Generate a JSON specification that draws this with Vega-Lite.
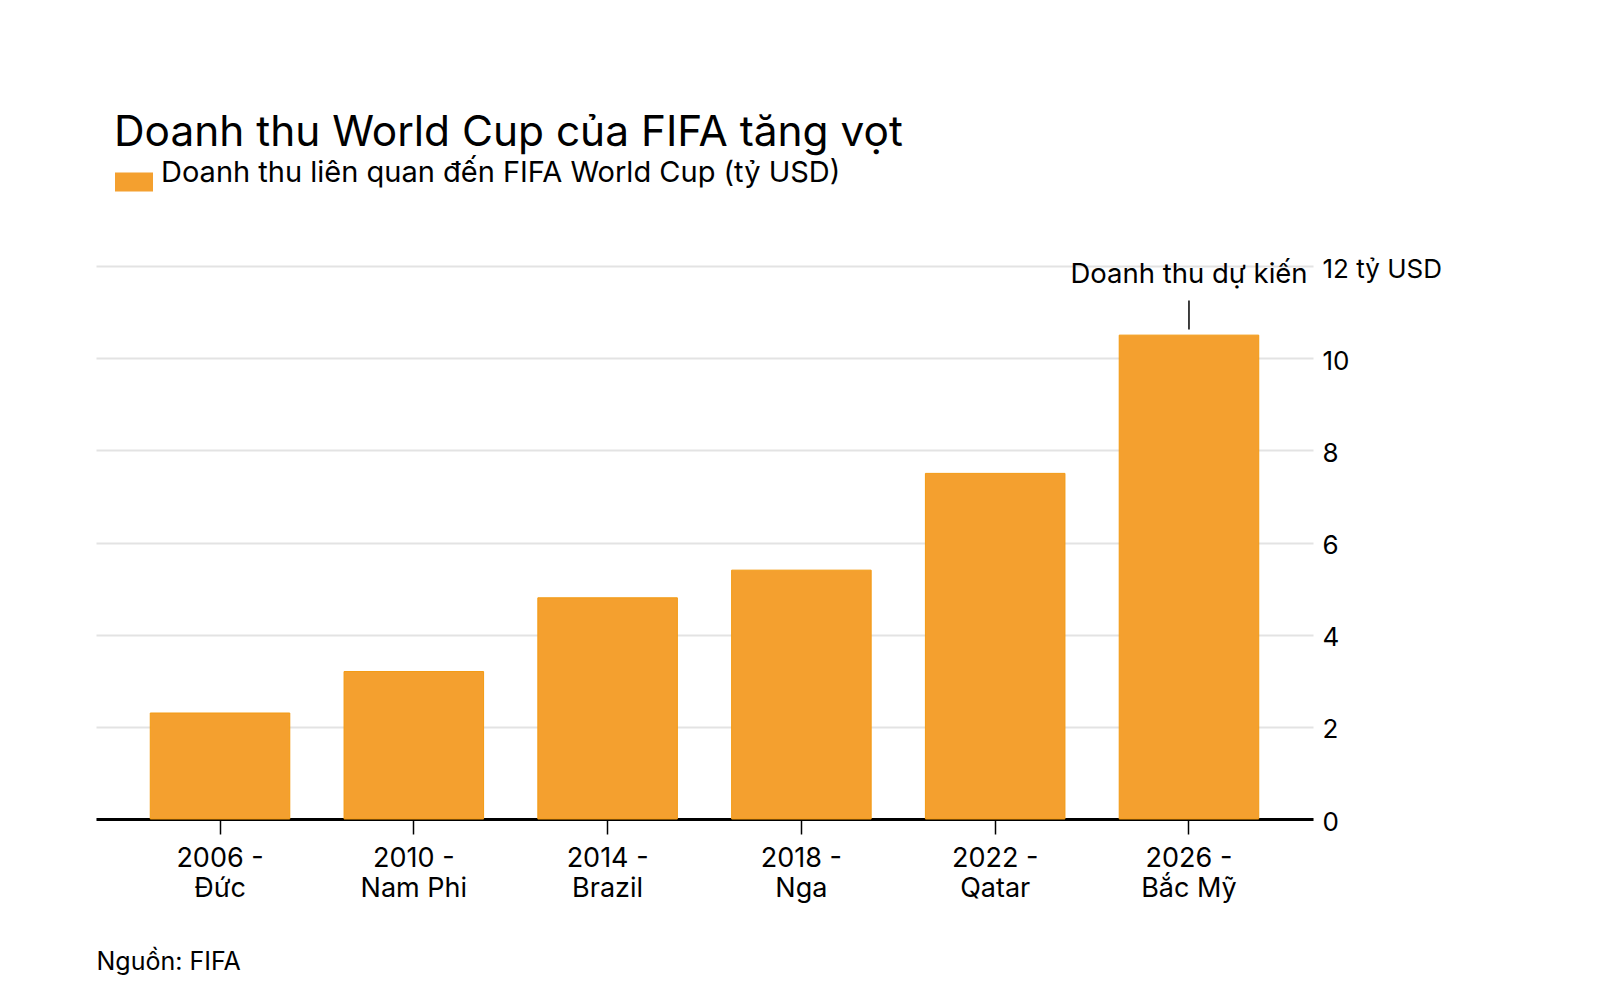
{
  "$schema": "https://vega.github.io/schema/vega-lite/v6.json",
  "width": 1217,
  "height": 553,
  "autosize": {"type": "none"},
  "padding": {"left": 96, "top": 266, "right": 287, "bottom": 181},
  "background": "#ffffff",
  "title": {
    "text": "Doanh thu World Cup của FIFA tăng vọt",
    "anchor": "start",
    "frame": "group",
    "orient": "top",
    "font": "Inter",
    "fontSize": 42.4,
    "fontWeight": "normal",
    "color": "#000000",
    "baseline": "alphabetic",
    "dx": 18,
    "offset": -25
  },
  "data": {
    "values": [
      {"label": "2006 - Đức", "value": 2.3, "series": "Doanh thu liên quan đến FIFA World Cup (tỷ USD)", "note": null},
      {"label": "2010 - Nam Phi", "value": 3.2, "series": "Doanh thu liên quan đến FIFA World Cup (tỷ USD)", "note": null},
      {"label": "2014 - Brazil", "value": 4.8, "series": "Doanh thu liên quan đến FIFA World Cup (tỷ USD)", "note": null},
      {"label": "2018 - Nga", "value": 5.4, "series": "Doanh thu liên quan đến FIFA World Cup (tỷ USD)", "note": null},
      {"label": "2022 - Qatar", "value": 7.5, "series": "Doanh thu liên quan đến FIFA World Cup (tỷ USD)", "note": null},
      {"label": "2026 - Bắc Mỹ", "value": 10.5, "series": "Doanh thu liên quan đến FIFA World Cup (tỷ USD)", "note": "Doanh thu dự kiến"}
    ]
  },
  "encoding": {
    "x": {
      "field": "label",
      "type": "nominal",
      "sort": null,
      "scale": {"paddingInner": 0.28, "paddingOuter": 0.28},
      "axis": {
        "title": "Nguồn: FIFA",
        "titleAnchor": "start",
        "titleAlign": "left",
        "titleX": 0,
        "titleY": 142,
        "titleBaseline": "middle",
        "titleFont": "Inter",
        "titleFontSize": 25,
        "titleFontWeight": "normal",
        "titleColor": "#000000",
        "labelAngle": 0,
        "labelExpr": "[slice(datum.label, 0, 6), slice(datum.label, 7)]",
        "labelFont": "Inter",
        "labelFontSize": 27,
        "labelColor": "#000000",
        "labelLineHeight": 30,
        "labelPadding": 11,
        "tickSize": 15,
        "tickColor": "#000000",
        "tickWidth": 1.5,
        "domainColor": "#000000",
        "domainWidth": 3,
        "grid": false
      }
    }
  },
  "layer": [
    {
      "mark": {"type": "bar", "stroke": "#f39a12", "strokeWidth": 1},
      "encoding": {
        "y": {
          "field": "value",
          "type": "quantitative",
          "scale": {"domain": [0, 12], "nice": false},
          "axis": {
            "orient": "right",
            "title": null,
            "values": [0, 2, 4, 6, 8, 10, 12],
            "labelExpr": "datum.value == 12 ? '12 tỷ USD' : datum.label",
            "labelFont": "Inter",
            "labelFontSize": 26,
            "labelColor": "#000000",
            "labelPadding": 9,
            "labelOffset": 3,
            "ticks": false,
            "domain": false,
            "grid": true,
            "gridColor": "#e3e3e3",
            "gridWidth": 2
          }
        },
        "color": {
          "field": "series",
          "type": "nominal",
          "scale": {"range": ["#f4a02f"]},
          "legend": {
            "title": null,
            "orient": "none",
            "legendX": 19,
            "legendY": -103,
            "symbolType": "M-1,-0.5H1V0.5H-1Z",
            "symbolSize": 1444,
            "symbolStrokeWidth": 0,
            "symbolOpacity": 1,
            "labelFont": "Inter",
            "labelFontSize": 29,
            "labelColor": "#000000",
            "labelOffset": 8,
            "labelBaseline": "alphabetic",
            "labelLimit": 0
          }
        }
      }
    },
    {
      "transform": [{"filter": "datum.note != null"}],
      "mark": {"type": "rule", "color": "#000000", "strokeWidth": 1.5},
      "encoding": {
        "y": {"datum": 10.62, "type": "quantitative"},
        "y2": {"datum": 11.25}
      }
    },
    {
      "transform": [{"filter": "datum.note != null"}],
      "mark": {"type": "text", "font": "Inter", "fontSize": 27.5, "color": "#000000", "align": "center", "baseline": "alphabetic"},
      "encoding": {
        "y": {"datum": 11.63, "type": "quantitative"},
        "text": {"field": "note"}
      }
    }
  ],
  "config": {
    "view": {"stroke": null},
    "font": "Inter"
  }
}
